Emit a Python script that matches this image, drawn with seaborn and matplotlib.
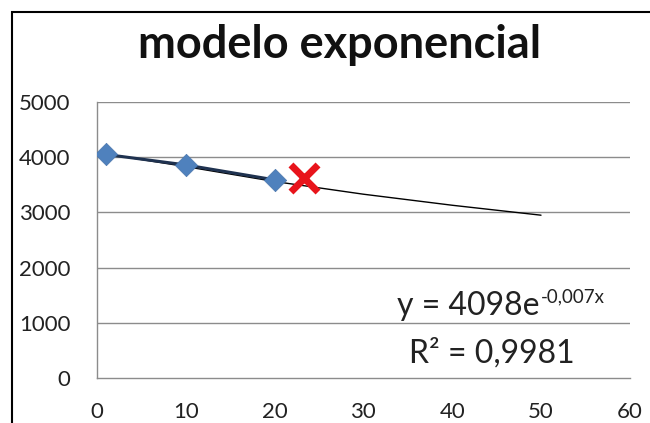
import matplotlib
matplotlib.use("Agg")
import matplotlib.pyplot as plt
from matplotlib.patches import Rectangle
import pandas as pd
import seaborn as sns

# datos observados
dias = [1, 10, 20]
valores = [4050, 3860, 3590]

# punto marcado (cruz roja)
punto_x = [23.3]
punto_y = [3620]

# línea de tendencia
tend_x = [1, 10, 20, 30, 40, 50]
tend_y = [4060, 3830, 3560, 3330, 3130, 2950]

eq_base = "y = 4098e"
eq_exp = "-0,007x"
r2_texto = "R² = 0,9981"
titulo = "modelo exponencial"

x_ticks = [0, 10, 20, 30, 40, 50, 60]
y_ticks = [0, 1000, 2000, 3000, 4000, 5000]

sns.set_theme(style="white")
plt.rcParams["font.family"] = ["Lato", "DejaVu Sans"]

fig = plt.figure(figsize=(6.5, 4.23), dpi=100)
ax = fig.add_axes([0.149, 0.106, 0.82, 0.653])

grid_col = "#8c8c8c"
for v in y_ticks[1:]:
    ax.axhline(v, color=grid_col, lw=1.0, zorder=0)

df = pd.DataFrame({"x": dias, "y": valores})
dt = pd.DataFrame({"x": tend_x, "y": tend_y})

sns.lineplot(data=dt, x="x", y="y", ax=ax, color="black", lw=1.0, zorder=2)
sns.lineplot(data=df, x="x", y="y", ax=ax, color="#1f3250", lw=2.2, zorder=3)
sns.scatterplot(data=df, x="x", y="y", ax=ax, marker="D", s=130,
                color="#4f81bd", edgecolor="#4a76ad", linewidth=0.5, zorder=4)
sns.scatterplot(x=punto_x, y=punto_y, ax=ax, marker="x", s=380,
                color="#e8141b", linewidth=5, zorder=5)

ax.set_xlim(0, 60)
ax.set_ylim(0, 5000)
ax.set_xticks(x_ticks)
ax.set_yticks(y_ticks)
ax.set_xlabel("")
ax.set_ylabel("")
ax.tick_params(axis="both", labelsize=16, colors="#222222", length=6,
               width=1, direction="out", color=grid_col)
ax.tick_params(axis="y", pad=13)
ax.tick_params(axis="x", pad=11)
for s in ["top", "right"]:
    ax.spines[s].set_visible(False)
for s in ["left", "bottom"]:
    ax.spines[s].set_color(grid_col)
    ax.spines[s].set_linewidth(1.0)

# ecuación de la tendencia con exponente en superíndice
t = ax.text(0.831, 0.228, eq_base, transform=ax.transAxes, ha="right",
            va="baseline", fontsize=23, color="#222222")
ax.annotate(eq_exp, xy=(1, 0.228), xycoords=(t, "axes fraction"),
            xytext=(1, 9), textcoords="offset points", ha="left",
            va="baseline", fontsize=13.5, color="#222222")
ax.text(0.741, 0.058, r2_texto, transform=ax.transAxes, ha="center",
        va="baseline", fontsize=23, color="#222222")

fig.text(0.523, 0.893, titulo, ha="center", va="center", fontsize=32.5,
         fontweight="bold", color="#111111")

# borde del recuadro (arriba e izquierda)
fig.patches.append(Rectangle((12 / 650, -0.2), 1.2, 1.2 - 12 / 423,
                             transform=fig.transFigure, fill=False,
                             edgecolor="black", lw=1.5))

fig.savefig("out.png", dpi=100)
